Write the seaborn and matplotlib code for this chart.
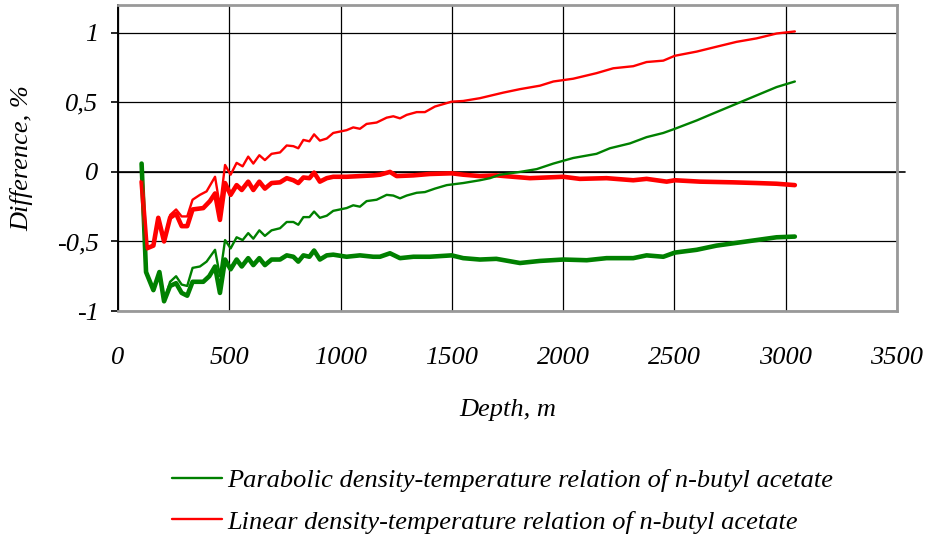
import matplotlib
matplotlib.use('Agg')
import matplotlib.pyplot as plt
import seaborn as sns
import pandas as pd
from matplotlib.ticker import FuncFormatter
from matplotlib.lines import Line2D

# ---------------- data ----------------
par_thin_x = [106, 126, 159, 186, 207, 234, 261, 286, 311, 335, 368, 398, 436, 458, 481,
              506, 533, 560, 585, 608, 635, 660, 690, 728, 758, 788, 810, 833, 860, 881,
              907, 938, 967, 1027, 1057, 1087, 1117, 1162, 1207, 1237, 1267, 1297, 1342, 1379, 1424,
              1477, 1551, 1626, 1671, 1716, 1806, 1881, 1956, 2045, 2150, 2210, 2300, 2375, 2450, 2502,
              2600, 2659, 2749, 2824, 2884, 2959, 3041]
par_thin_y = [0.06, -0.72, -0.85, -0.72, -0.93, -0.79, -0.75, -0.81, -0.82, -0.69, -0.68, -0.645, -0.56, -0.75, -0.49,
              -0.55, -0.47, -0.49, -0.44, -0.48, -0.42, -0.46, -0.42, -0.405, -0.36, -0.36, -0.38, -0.325, -0.325, -0.285,
              -0.33, -0.315, -0.28, -0.26, -0.24, -0.25, -0.21, -0.20, -0.165, -0.17, -0.19, -0.17, -0.15, -0.145, -0.12,
              -0.095, -0.08, -0.06, -0.045, -0.02, 0.0, 0.02, 0.06, 0.10, 0.13, 0.17, 0.205, 0.25, 0.28, 0.31,
              0.37, 0.41, 0.47, 0.52, 0.56, 0.61, 0.65]

par_thick_x = [106, 126, 159, 186, 207, 234, 261, 286, 311, 335, 383, 410, 436, 458, 481,
               506, 533, 556, 585, 608, 635, 660, 690, 728, 758, 788, 810, 833, 860, 881,
               907, 938, 967, 1027, 1087, 1147, 1177, 1222, 1267, 1327, 1400, 1499, 1551, 1626, 1700,
               1806, 1896, 2001, 2106, 2195, 2315, 2375, 2450, 2502, 2600, 2689, 2779, 2869, 2959, 3041]
par_thick_y = [0.06, -0.72, -0.85, -0.72, -0.93, -0.82, -0.80, -0.87, -0.89, -0.79, -0.79, -0.75, -0.68, -0.87, -0.63,
               -0.70, -0.63, -0.68, -0.62, -0.67, -0.62, -0.67, -0.63, -0.63, -0.60, -0.61, -0.645, -0.60, -0.61, -0.565,
               -0.63, -0.60, -0.595, -0.61, -0.60, -0.61, -0.61, -0.585, -0.62, -0.61, -0.61, -0.60, -0.62, -0.63, -0.625,
               -0.655, -0.64, -0.63, -0.635, -0.62, -0.62, -0.60, -0.61, -0.58, -0.56, -0.53, -0.51, -0.49, -0.47, -0.465]

lin_thick_x = [106, 129, 159, 181, 207, 234, 261, 286, 311, 335, 383, 413, 436, 458, 481,
               506, 533, 556, 585, 608, 635, 660, 690, 728, 758, 788, 810, 833, 860, 881,
               907, 938, 967, 1027, 1087, 1147, 1177, 1222, 1252, 1327, 1400, 1499, 1551, 1626, 1700,
               1851, 2001, 2075, 2195, 2315, 2375, 2465, 2502, 2615, 2764, 2869, 2959, 3041]
lin_thick_y = [-0.07, -0.55, -0.53, -0.33, -0.50, -0.33, -0.30, -0.39, -0.39, -0.27, -0.26, -0.21, -0.155, -0.345, -0.08,
               -0.165, -0.095, -0.13, -0.07, -0.13, -0.07, -0.12, -0.08, -0.075, -0.045, -0.06, -0.08, -0.04, -0.045, -0.005,
               -0.07, -0.045, -0.035, -0.035, -0.03, -0.025, -0.02, 0.0, -0.03, -0.025, -0.015, -0.01, -0.02, -0.03, -0.025,
               -0.045, -0.035, -0.05, -0.045, -0.06, -0.05, -0.07, -0.06, -0.07, -0.075, -0.08, -0.085, -0.095]

lin_thin_x = [106, 129, 159, 181, 207, 234, 261, 286, 311, 335, 368, 398, 436, 458, 481,
              506, 533, 560, 585, 608, 635, 660, 690, 728, 758, 788, 810, 833, 860, 881,
              907, 938, 967, 1027, 1057, 1087, 1117, 1162, 1207, 1237, 1267, 1297, 1342, 1379, 1424,
              1499, 1551, 1626, 1731, 1806, 1896, 1956, 2045, 2150, 2225, 2315, 2375, 2450, 2502, 2600,
              2689, 2779, 2869, 2959, 3041]
lin_thin_y = [-0.07, -0.55, -0.53, -0.33, -0.50, -0.31, -0.27, -0.32, -0.32, -0.20, -0.165, -0.14, -0.035, -0.25, 0.05,
              -0.02, 0.065, 0.04, 0.11, 0.06, 0.12, 0.085, 0.13, 0.14, 0.19, 0.185, 0.17, 0.23, 0.22, 0.27,
              0.225, 0.24, 0.28, 0.30, 0.32, 0.31, 0.345, 0.355, 0.39, 0.40, 0.385, 0.41, 0.43, 0.43, 0.47,
              0.505, 0.51, 0.53, 0.57, 0.595, 0.62, 0.65, 0.67, 0.71, 0.745, 0.76, 0.79, 0.80, 0.835, 0.865,
              0.90, 0.935, 0.96, 0.995, 1.01]

x_ticks = [0, 500, 1000, 1500, 2000, 2500, 3000, 3500]
y_ticks = [-1, -0.5, 0, 0.5, 1]
label_parabolic = "Parabolic density-temperature relation of n-butyl acetate"
label_linear = "Linear density-temperature relation of n-butyl acetate"
x_title = "Depth, m"
y_title = "Difference, %"

GREEN = "#008000"
RED = "#FF0000"
FS = 19

# ---------------- figure ----------------
sns.set_theme(style="white")
plt.rcParams['font.family'] = ['Liberation Serif', 'DejaVu Serif']
plt.rcParams['font.style'] = 'italic'
plt.rcParams['text.color'] = 'black'

fig = plt.figure(figsize=(9.27, 5.41), dpi=100)
ax = fig.add_axes([118 / 927, 1 - 311 / 541, (897 - 118) / 927, (311 - 5) / 541])

series = [
    (par_thick_x, par_thick_y, GREEN, 3.3),
    (lin_thick_x, lin_thick_y, RED, 3.3),
    (par_thin_x, par_thin_y, GREEN, 1.7),
    (lin_thin_x, lin_thin_y, RED, 1.7),
]
for xs, ys, col, lw in series:
    df = pd.DataFrame({"depth": xs, "diff": ys})
    sns.lineplot(data=df, x="depth", y="diff", ax=ax, color=col, linewidth=lw,
                 estimator=None, sort=False, legend=False, zorder=3)

ax.set_xlim(0, 3500)
ax.set_ylim(-1, 1.2)
ax.set_xticks(x_ticks)
ax.set_yticks(y_ticks)
ax.yaxis.set_major_formatter(FuncFormatter(lambda v, p: ('%g' % v).replace('.', ',')))
ax.xaxis.set_major_formatter(FuncFormatter(lambda v, p: '%d' % v))
ax.grid(True, color='black', linewidth=0.9)

for s in ['top', 'right', 'bottom']:
    ax.spines[s].set_color('#999999')
    ax.spines[s].set_linewidth(2.0)
ax.spines['left'].set_color('black')
ax.spines['left'].set_linewidth(1.4)

ax.axhline(0, color='black', linewidth=1.2, xmin=0, xmax=1.01, clip_on=False, zorder=2)

ax.tick_params(axis='x', length=0, pad=26, labelsize=FS, colors='black')
ax.tick_params(axis='y', left=True, length=5, width=1.2, direction='out', pad=9,
               labelsize=FS, colors='black')

ax.set_xlabel(x_title, fontsize=FS, color='black')
ax.set_ylabel(y_title, fontsize=FS, color='black')
ax.xaxis.set_label_coords(0.5, (311 - 410) / 306)
ax.xaxis.label.set_va('center')
ax.yaxis.set_label_coords((22 - 118) / 779, 0.5)
ax.yaxis.label.set_va('center')

handles = [Line2D([], [], color=GREEN, lw=1.7), Line2D([], [], color=RED, lw=1.7)]
fig.legend(handles, [label_parabolic, label_linear], loc='upper left',
           bbox_to_anchor=(172 / 927, 1 - 469 / 541), frameon=False, fontsize=FS,
           borderpad=0, borderaxespad=0, handlelength=1.9, handletextpad=0.2,
           labelspacing=0.67)

fig.savefig('out.png', dpi=100)
